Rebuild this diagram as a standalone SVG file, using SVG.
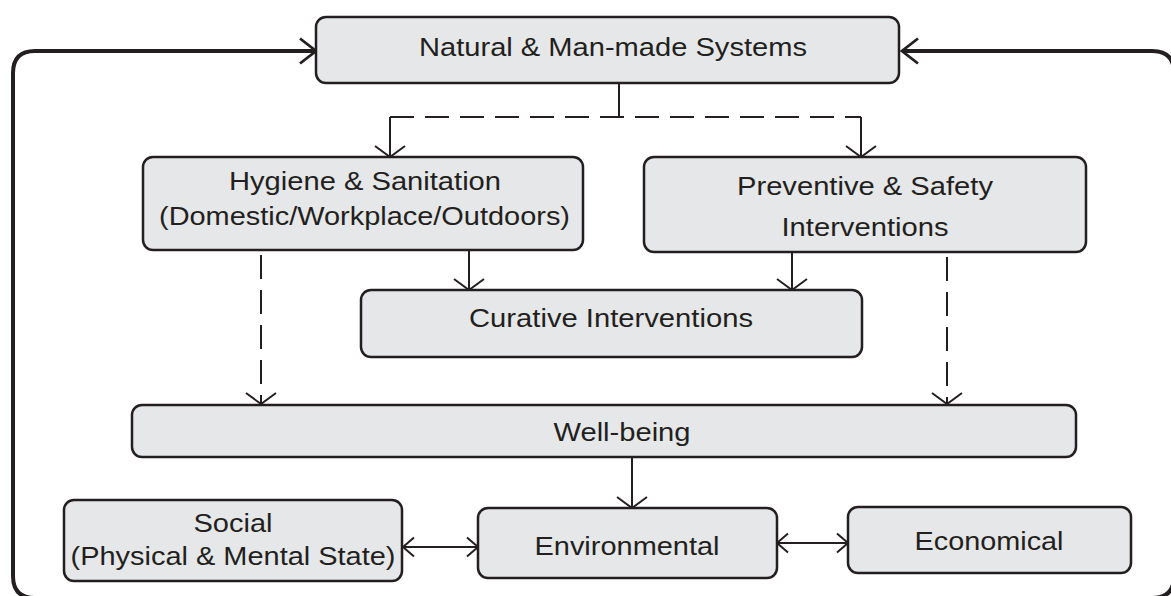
<svg xmlns="http://www.w3.org/2000/svg" width="1171" height="596" viewBox="0 0 1171 596">
<style>
.box{fill:#e6e7e8;stroke:#231f20;stroke-width:2.5}
.t{font-family:"Liberation Sans",Arial,Helvetica,sans-serif;font-size:26px;fill:#231f20;text-anchor:middle}
.ln{fill:none;stroke:#231f20;stroke-width:2}
.dash{stroke-dasharray:24 11}
.loop{fill:none;stroke:#231f20;stroke-width:4}
</style>
<defs>
<marker id="arr" markerUnits="userSpaceOnUse" viewBox="-14 -17 16 34" refX="0" refY="0" markerWidth="16" markerHeight="34" orient="auto-start-reverse">
<path d="M -11,-15 L 0,0 L -11,15" fill="none" stroke="#231f20" stroke-width="2"/>
</marker>
<marker id="darr" markerUnits="userSpaceOnUse" viewBox="-14 -12 16 24" refX="0" refY="0" markerWidth="16" markerHeight="24" orient="auto-start-reverse">
<path d="M -11,-9.5 L 0,0 L -11,9.5" fill="none" stroke="#231f20" stroke-width="2"/>
</marker>
<marker id="larr" markerUnits="userSpaceOnUse" viewBox="-20 -15 22 30" refX="0" refY="0" markerWidth="22" markerHeight="30" orient="auto-start-reverse">
<path d="M -16,-12.5 L 0,0 L -16,12.5" fill="none" stroke="#231f20" stroke-width="2.8"/>
</marker>
</defs>

<g id="connectors">
<path class="loop" d="M 902,51 H 1152 Q 1174,51 1174,73 V 576 Q 1174,598 1152,598 H 35 Q 13,598 13,576 V 73 Q 13,51 35,51 H 316" marker-start="url(#larr)" marker-end="url(#larr)"/>
<path class="ln" d="M 619,83 V 117"/>
<path class="ln dash" d="M 390,117 H 861"/>
<path class="ln" d="M 390,117 V 157" marker-end="url(#arr)"/>
<path class="ln" d="M 861,117 V 157" marker-end="url(#arr)"/>
<path class="ln" d="M 469,250 V 290" marker-end="url(#arr)"/>
<path class="ln" d="M 792,252 V 290" marker-end="url(#arr)"/>
<path class="ln dash" d="M 261,255 V 404" marker-end="url(#arr)"/>
<path class="ln dash" d="M 947,257 V 404" marker-end="url(#arr)"/>
<path class="ln" d="M 632,457 V 508" marker-end="url(#arr)"/>
<path class="ln" d="M 403,547 H 478" marker-start="url(#darr)" marker-end="url(#darr)"/>
<path class="ln" d="M 777,543 H 848" marker-start="url(#darr)" marker-end="url(#darr)"/>
</g>

<g id="natural">
<rect class="box" x="316" y="17" width="583" height="66" rx="10"/>
<text class="t" x="613" y="56" textLength="388" lengthAdjust="spacingAndGlyphs">Natural &amp; Man-made Systems</text>
</g>
<g id="hygiene">
<rect class="box" x="143" y="157" width="440" height="93" rx="10"/>
<text class="t" x="365" y="190" textLength="272" lengthAdjust="spacingAndGlyphs">Hygiene &amp; Sanitation</text>
<text class="t" x="364.5" y="225" textLength="411" lengthAdjust="spacingAndGlyphs">(Domestic/Workplace/Outdoors)</text>
</g>
<g id="preventive">
<rect class="box" x="644" y="157" width="442" height="95" rx="10"/>
<text class="t" x="865" y="195" textLength="256" lengthAdjust="spacingAndGlyphs">Preventive &amp; Safety</text>
<text class="t" x="865" y="236" textLength="167" lengthAdjust="spacingAndGlyphs">Interventions</text>
</g>
<g id="curative">
<rect class="box" x="361" y="290" width="501" height="67" rx="10"/>
<text class="t" x="611" y="327" textLength="284" lengthAdjust="spacingAndGlyphs">Curative Interventions</text>
</g>
<g id="wellbeing">
<rect class="box" x="132" y="405" width="944" height="52" rx="10"/>
<text class="t" x="622" y="441" textLength="137" lengthAdjust="spacingAndGlyphs">Well-being</text>
</g>
<g id="social">
<rect class="box" x="64" y="500" width="338" height="81" rx="10"/>
<text class="t" x="233" y="532" textLength="79" lengthAdjust="spacingAndGlyphs">Social</text>
<text class="t" x="233" y="565" textLength="325" lengthAdjust="spacingAndGlyphs">(Physical &amp; Mental State)</text>
</g>
<g id="environmental">
<rect class="box" x="478" y="508" width="299" height="70" rx="10"/>
<text class="t" x="627" y="555" textLength="185" lengthAdjust="spacingAndGlyphs">Environmental</text>
</g>
<g id="economical">
<rect class="box" x="848" y="507" width="283" height="66" rx="10"/>
<text class="t" x="989" y="550" textLength="149" lengthAdjust="spacingAndGlyphs">Economical</text>
</g>
</svg>
